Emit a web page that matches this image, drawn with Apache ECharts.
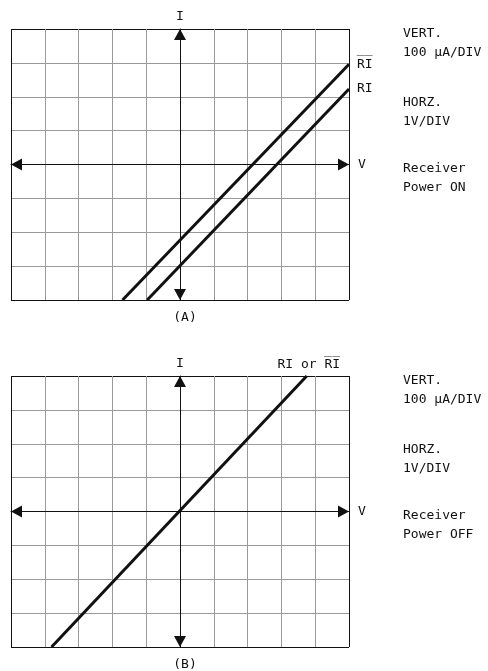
<!DOCTYPE html>
<html>
<head>
<meta charset="utf-8">
<script src="https://cdn.jsdelivr.net/npm/echarts@6/dist/echarts.min.js"></script>
<style>
  html, body { margin: 0; padding: 0; background: #fff; }
  #chart { width: 488px; height: 671px; }
</style>
</head>
<body>
<div id="chart"></div>
<script>
// 示波器 I-V 曲线：上 (A) 接收器上电，下 (B) 断电
// 坐标单位 = 格 (DIV)：横 1V/DIV，纵 100 µA/DIV
const voltDivs = [-5, 5];
const currentDivs = [-4, 4];

// (A) Power ON
const riBarV = [-1.7, 5.0];
const riBarI = [-4.0, 2.96];
const riV = [-0.97, 5.0];
const riI = [-4.0, 2.23];

// (B) Power OFF
const offV = [-3.8, 3.75];
const offI = [-4.0, 4.0];

const captions = ["(A)", "(B)"];
const notesOn = ["VERT.\n100 \u03bcA/DIV", "HORZ.\n1V/DIV", "Receiver\nPower ON"];
const notesOff = ["VERT.\n100 \u03bcA/DIV", "HORZ.\n1V/DIV", "Receiver\nPower OFF"];

const FONT = "DejaVu Sans Mono";
const INK = "#111";
const GRAY = "#9a9a9a";
const gridTops = [29, 376];
const noteOffsets = [-4.5, 64, 130.5];

const zip = (xs, ys) => xs.map((x, i) => [x, ys[i]]);
// 边框深色，内部格线灰色
const lineColors = (lo, hi) => {
  const n = hi - lo + 1;
  return Array.from({ length: n }, (_, i) => (i === 0 || i === n - 1) ? INK : GRAY);
};

const chart = echarts.init(document.getElementById("chart"), null, { renderer: "canvas" });

const xAxisFor = (gi) => ({
  type: "value", gridIndex: gi, min: voltDivs[0], max: voltDivs[1], interval: 1,
  axisLine: { show: true, onZero: true, lineStyle: { color: INK, width: 1 },
              symbol: ["triangle", "triangle"], symbolSize: [12, 11], symbolOffset: [5.5, -5.5] },
  axisTick: { show: false }, axisLabel: { show: false },
  splitLine: { show: true, lineStyle: { color: lineColors(voltDivs[0], voltDivs[1]), width: 1 } },
  name: "V", nameLocation: "end", nameGap: 9,
  nameTextStyle: { fontFamily: FONT, fontSize: 13, color: INK, verticalAlign: "middle" },
});
const yAxisFor = (gi) => ({
  type: "value", gridIndex: gi, min: currentDivs[0], max: currentDivs[1], interval: 1,
  axisLine: { show: true, onZero: true, lineStyle: { color: INK, width: 1 },
              symbol: ["triangle", "triangle"], symbolSize: [12, 11], symbolOffset: [5.5, -5.5] },
  axisTick: { show: false }, axisLabel: { show: false },
  splitLine: { show: true, lineStyle: { color: lineColors(currentDivs[0], currentDivs[1]), width: 1 } },
  name: "I", nameLocation: "end", nameGap: 6,
  nameTextStyle: { fontFamily: FONT, fontSize: 13, color: INK, align: "center" },
});

const traceFor = (name, gi, xs, ys, label) => ({
  name, type: "line", xAxisIndex: gi, yAxisIndex: gi,
  data: zip(xs, ys), showSymbol: false, symbol: "none",
  lineStyle: { color: INK, width: 3 }, itemStyle: { color: INK },
  endLabel: Object.assign({ show: true, formatter: "{a}", fontFamily: FONT, fontSize: 13, color: INK }, label),
  z: 5,
});

const notes = (gi, texts) => texts.map((t, k) => ({
  type: "text", left: 403, top: gridTops[gi] + noteOffsets[k],
  style: { text: t, font: `13px "${FONT}"`, fill: INK, lineHeight: 19 },
}));

chart.setOption({
  animation: false,
  backgroundColor: "#fff",
  grid: gridTops.map(top => ({ left: 11, width: 338, top, height: 271, show: false })),
  xAxis: [xAxisFor(0), xAxisFor(1)],
  yAxis: [yAxisFor(0), yAxisFor(1)],
  title: captions.map((c, gi) => ({
    text: c, left: 180, top: gridTops[gi] + 271 + 6, textAlign: "center",
    textStyle: { fontFamily: FONT, fontSize: 13, fontWeight: "normal", color: INK },
  })),
  series: [
    traceFor("R\u0305I\u0305", 0, riBarV, riBarI, { distance: 8 }),
    traceFor("RI", 0, riV, riI, { distance: 8 }),
    traceFor("RI or R\u0305I\u0305", 1, offV, offI, { distance: 0, align: "center", verticalAlign: "bottom", offset: [2, -5] }),
  ],
  graphic: [...notes(0, notesOn), ...notes(1, notesOff)],
});
</script>
</body>
</html>
